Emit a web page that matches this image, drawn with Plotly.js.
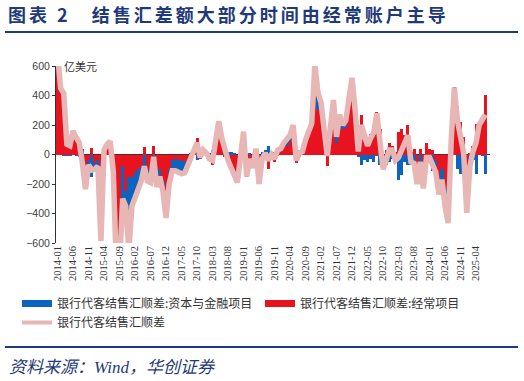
<!DOCTYPE html>
<html>
<head>
<meta charset="utf-8">
<script src="https://cdn.plot.ly/plotly-3.0.1.min.js"></script>
<style>
html,body{margin:0;padding:0;background:#fff;}#chart{width:524px;height:381px;}
#chart .gtitle{letter-spacing:3px;}
</style>
</head>
<body>
<div id="chart"></div>
<script>
const months = [
"2014-01","2014-02","2014-03","2014-04","2014-05","2014-06","2014-07","2014-08","2014-09","2014-10","2014-11","2014-12",
"2015-01","2015-02","2015-03","2015-04","2015-05","2015-06","2015-07","2015-08","2015-09","2015-10","2015-11","2015-12",
"2016-01","2016-02","2016-03","2016-04","2016-05","2016-06","2016-07","2016-08","2016-09","2016-10","2016-11","2016-12",
"2017-01","2017-02","2017-03","2017-04","2017-05","2017-06","2017-07","2017-08","2017-09","2017-10","2017-11","2017-12",
"2018-01","2018-02","2018-03","2018-04","2018-05","2018-06","2018-07","2018-08","2018-09","2018-10","2018-11","2018-12",
"2019-01","2019-02","2019-03","2019-04","2019-05","2019-06","2019-07","2019-08","2019-09","2019-10","2019-11","2019-12",
"2020-01","2020-02","2020-03","2020-04","2020-05","2020-06","2020-07","2020-08","2020-09","2020-10","2020-11","2020-12",
"2021-01","2021-02","2021-03","2021-04","2021-05","2021-06","2021-07","2021-08","2021-09","2021-10","2021-11","2021-12",
"2022-01","2022-02","2022-03","2022-04","2022-05","2022-06","2022-07","2022-08","2022-09","2022-10","2022-11","2022-12",
"2023-01","2023-02","2023-03","2023-04","2023-05","2023-06","2023-07","2023-08","2023-09","2023-10","2023-11","2023-12",
"2024-01","2024-02","2024-03","2024-04","2024-05","2024-06","2024-07","2024-08","2024-09","2024-10","2024-11","2024-12",
"2025-01","2025-02","2025-03","2025-04","2025-05","2025-06","2025-07"
];
const tickLabels = ["2014-01","2014-06","2014-11","2015-04","2015-09","2016-02","2016-07","2016-12","2017-05","2017-10",
"2018-03","2018-08","2019-01","2019-06","2019-11","2020-04","2020-09","2021-02","2021-07","2021-12","2022-05","2022-10",
"2023-03","2023-08","2024-01","2024-06","2024-11","2025-04"];

// 银行代客结售汇顺差:经常项目 (亿美元)
const currentAcct = [
650,420,425,80,72,165,125,95,-95,-110,
-40,45,-60,-40,-560,20,60,80,-100,-700,
-650,-80,-250,-150,-150,-120,-100,-80,50,-100,
-120,55,-150,-100,-180,-310,-100,-40,-30,-40,
-40,-50,-30,-20,20,115,-30,10,-10,-40,
-70,60,160,80,-20,-60,-110,-160,-170,-40,
120,-130,-40,-80,10,-180,-50,-20,-100,-20,
-50,-10,20,50,60,90,110,-60,-20,10,
80,150,170,450,300,270,180,-75,140,290,
80,220,170,180,330,470,300,40,270,160,
110,140,200,290,170,-40,30,80,60,20,
150,170,130,200,20,40,-80,40,-100,80,
40,30,-40,-170,-100,-230,-280,120,420,330,
220,120,-290,10,60,210,190,250,405
];
// 银行代客结售汇顺差:资本与金融项目 (亿美元)
const capitalAcct = [
30,30,-10,-10,-12,-5,-10,-15,40,-125,
-30,-150,-40,-40,-25,10,10,10,-20,-100,
-100,-220,-100,-500,-200,-180,-150,-100,-130,-80,
-70,-70,-70,-50,-70,-120,-100,-70,-80,-85,
-90,-75,-40,10,25,-35,10,20,20,10,
30,40,65,30,40,20,20,10,-20,20,
35,-20,10,-10,30,-20,20,30,60,20,
20,40,20,30,50,40,90,20,30,10,
20,20,40,160,120,80,20,65,40,80,
40,50,30,50,50,50,0,-20,-70,-40,
-50,-30,-50,-10,-70,-60,-70,-50,-30,-60,
-170,-140,-50,-70,-70,-100,-120,-90,-130,-100,
-60,-110,-80,-100,-70,-120,-185,-20,35,-100,
-130,-110,-105,-90,-40,-130,10,-10,-135
];
// 银行代客结售汇顺差 (亿美元)
const totalBal = [
680,450,415,70,60,160,115,80,-55,-235,
-70,-105,-100,-80,-585,30,70,90,-120,-800,
-750,-300,-350,-650,-350,-300,-250,-180,-80,-180,
-190,-15,-220,-150,-250,-430,-200,-110,-110,-125,
-130,-125,-70,-10,45,80,-20,30,10,-30,
-40,100,225,110,20,-40,-90,-150,-190,-20,
155,-150,-30,-90,40,-200,-30,10,-40,0,
-30,30,40,80,110,130,200,-40,10,20,
100,170,210,610,420,350,200,-10,180,370,
120,270,200,230,380,520,300,20,200,120,
60,110,150,280,100,-100,-40,30,30,-40,
-20,30,80,130,-50,-60,-200,-50,-230,-20,
-20,-80,-120,-270,-170,-350,-465,100,455,230,
90,10,-395,-80,20,80,200,240,270
];

const names = ["银行代客结售汇顺差:资本与金融项目","银行代客结售汇顺差:经常项目","银行代客结售汇顺差"];
const cBlue = "#0B64BE", cRed = "#E8131F", cPink = "#E7B6B5";
const navy = "#1F3A7A";

const traces = [
  {type:"bar", x:months, y:currentAcct, marker:{color:cRed, line:{width:0}}, showlegend:false, name:names[1]},
  {type:"bar", x:months, y:capitalAcct, marker:{color:cBlue, line:{width:0}}, showlegend:false, name:names[0]},
  {type:"scatter", mode:"lines", x:months, y:totalBal, line:{color:cPink, width:5.5}, showlegend:false, name:names[2]},
  {type:"scatter", mode:"lines", x:[null], y:[null], line:{color:cBlue, width:7}, name:names[0], legendrank:1, legend:"legend"},
  {type:"scatter", mode:"lines", x:[null], y:[null], line:{color:cRed, width:7}, name:names[1], legend:"legend2"},
  {type:"scatter", mode:"lines", x:[null], y:[null], line:{color:cPink, width:4}, name:names[2], legendrank:2, legend:"legend"}
];

const W=434, H=177, L=56, T=66;
const px = x => (x-L)/W, py = y => (T+H-y)/H;
const legFont = {family:"Noto Sans CJK SC, sans-serif", size:12, color:"#333"};

const layout = {
  width:524, height:381,
  margin:{l:L, r:524-L-W, t:T, b:381-T-H, pad:0, autoexpand:false},
  paper_bgcolor:"#fff", plot_bgcolor:"rgba(0,0,0,0)",
  barmode:"relative", bargap:0,
  font:{family:"Noto Sans CJK SC, sans-serif", color:"#333"},
  title:{text:"<b>图表 2\u3000结售汇差额大部分时间由经常账户主导</b>", x:8/524, xanchor:"left", xref:"container",
         y:1-16/381, yanchor:"middle", yref:"container",
         font:{family:"Noto Sans CJK SC, sans-serif", size:18, color:navy}},
  xaxis:{type:"category", range:[-0.5, 139.5], tickmode:"array", tickvals:tickLabels, ticktext:tickLabels,
         tickangle:-90, ticks:"", showline:false, showgrid:false, zeroline:false,
         tickfont:{family:"Liberation Serif, serif", size:10.5, color:"#333"}, automargin:false},
  yaxis:{range:[-600,600], tickvals:[-600,-400,-200,0,200,400,600], showgrid:false,
         showline:true, linecolor:"#333", linewidth:1, ticks:"outside", ticklen:3, tickcolor:"#333",
         zeroline:true, zerolinecolor:"#5a2a2a", zerolinewidth:1,
         tickfont:{family:"Liberation Sans, Arial, sans-serif", size:10.5, color:"#404040"}, automargin:false},
  legend:{orientation:"h", x:px(17), xanchor:"left", y:py(289), yanchor:"top",
          entrywidth:250, entrywidthmode:"pixels", itemwidth:30, tracegroupgap:0, font:legFont, bgcolor:"rgba(0,0,0,0)"},
  legend2:{orientation:"h", x:px(260), xanchor:"left", y:py(289), yanchor:"top",
          itemwidth:30, tracegroupgap:0, font:legFont, bgcolor:"rgba(0,0,0,0)"},
  annotations:[
    {text:"亿美元", xref:"paper", yref:"paper", x:px(62), y:1, xanchor:"left", yanchor:"middle", showarrow:false,
     font:{size:11, color:"#333"}},
    {text:"<i>资料来源：Wind，华创证券</i>", xref:"paper", yref:"paper", x:px(7), y:py(367), xanchor:"left", yanchor:"middle",
     showarrow:false, font:{family:"Liberation Serif, Noto Sans CJK SC, serif", size:17, color:navy}}
  ],
  shapes:[
    {type:"line", xref:"paper", yref:"paper", x0:px(5), x1:px(518), y0:py(32), y1:py(32), line:{color:navy, width:2}},
    {type:"line", xref:"paper", yref:"paper", x0:px(5), x1:px(518), y0:py(347), y1:py(347), line:{color:navy, width:2}}
  ]
};

Plotly.newPlot("chart", traces, layout, {staticPlot:true, displayModeBar:false});
</script>
</body>
</html>
